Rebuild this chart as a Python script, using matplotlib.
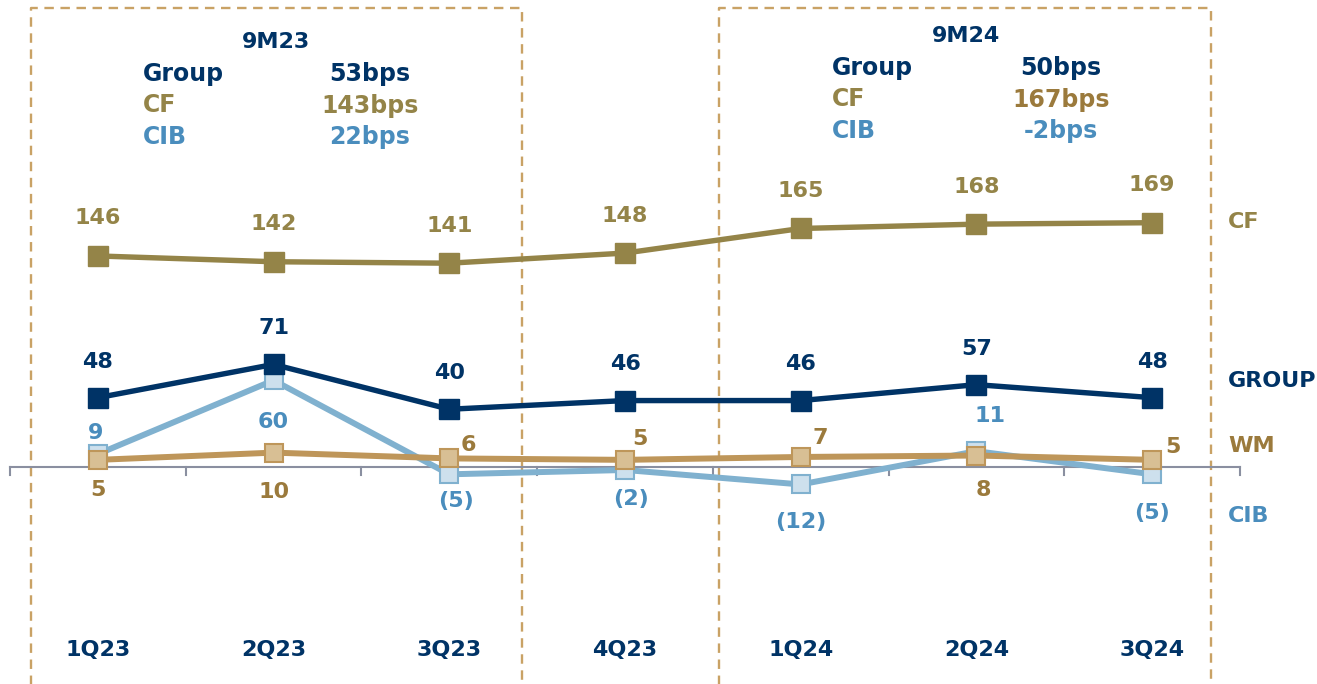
import matplotlib
matplotlib.use("Agg")
import matplotlib.pyplot as plt

# данные
quarters = ["1Q23", "2Q23", "3Q23", "4Q23", "1Q24", "2Q24", "3Q24"]
cf = [146, 142, 141, 148, 165, 168, 169]
group = [48, 71, 40, 46, 46, 57, 48]
cib = [9, 60, -5, -2, -12, 11, -5]
wm = [5, 10, 6, 5, 7, 8, 5]

summary_23 = [("Group", "53bps"), ("CF", "143bps"), ("CIB", "22bps")]
summary_24 = [("Group", "50bps"), ("CF", "167bps"), ("CIB", "-2bps")]

NAVY = "#003366"
OLIVE = "#948448"
CIB_LINE = "#80b1cf"
CIB_FACE = "#cde0ed"
CIB_TEXT = "#4a8dbd"
WM_LINE = "#be965a"
WM_FACE = "#d8bf94"
WM_TEXT = "#9b7a3c"
BOX = "#c9a265"
AXIS = "#8a8fa0"

W, H = 1317, 684
fig = plt.figure(figsize=(W / 100, H / 100), dpi=100)
ax = fig.add_axes([0, 0, 1, 1])
ax.set_xlim(-0.557, 6.938)
ax.set_ylim(-150, 323)
ax.axis("off")

FS = 16
def lab(color):
    return dict(color=color, fontsize=FS, fontweight="bold", ha="center", va="center")

x = range(len(quarters))

# ось
ax.plot([-0.5, 6.5], [0, 0], color=AXIS, lw=1.5, zorder=1)
for k in range(8):
    ax.plot([k - 0.5, k - 0.5], [0, -5.5], color=AXIS, lw=1.5, zorder=1)

# пунктирные рамки
for x0, x1 in [(-0.381, 2.414), (3.535, 6.335)]:
    ax.plot([x0, x0, x1, x1], [-170, 317.5, 317.5, -170], color=BOX, lw=1.7,
            ls=(0, (4, 2.8)), zorder=0)

# линии
ax.plot(x, cib, color=CIB_LINE, lw=4.3, marker="s", ms=13, mfc=CIB_FACE,
        mec=CIB_LINE, mew=1.5, zorder=2)
ax.plot(x, wm, color=WM_LINE, lw=4.3, marker="s", ms=13, mfc=WM_FACE,
        mec=WM_LINE, mew=1.5, zorder=3)
ax.plot(x, group, color=NAVY, lw=3.9, marker="s", ms=14, zorder=4)
ax.plot(x, cf, color=OLIVE, lw=3.9, marker="s", ms=14, zorder=4)

# подписи значений
def fmt(v):
    return f"({-v})" if v < 0 else str(v)

cib_off = [(-2, 15), (0, -30), (5, -19), (4, -21), (0, -27), (10, 25), (0, -28)]
wm_off = [(0, -22), (0, -28), (14, 10), (11, 15), (14, 14), (5, -25), (15, 9)]
for i in x:
    ax.annotate(fmt(cf[i]), (i, cf[i]), xytext=(0, 27), textcoords="offset points",
                **lab(OLIVE))
    ax.annotate(fmt(group[i]), (i, group[i]), xytext=(0, 26), textcoords="offset points",
                **lab(NAVY))
    ax.annotate(fmt(cib[i]), (i, cib[i]), xytext=cib_off[i], textcoords="offset points",
                **lab(CIB_TEXT))
    ax.annotate(fmt(wm[i]), (i, wm[i]), xytext=wm_off[i], textcoords="offset points",
                **lab(WM_TEXT))
    ax.text(i, (467 - 650) / 1.445, quarters[i], **lab(NAVY))

# подписи справа
for name, py, c in [("CF", 222, OLIVE), ("GROUP", 381, NAVY), ("WM", 446, WM_TEXT),
                    ("CIB", 516, CIB_TEXT)]:
    fig.text(1228 / W, 1 - py / H, name, color=c, fontsize=FS, fontweight="bold",
             ha="left", va="center")

# итоги за 9 месяцев
colors = [NAVY, OLIVE, CIB_TEXT]
for title, rows, cx, lx, vx, ty, ry in [("9M23", summary_23, 276, 143, 370, 42, 74),
                                         ("9M24", summary_24, 966, 832, 1061, 36, 68)]:
    fig.text(cx / W, 1 - ty / H, title, color=NAVY, fontsize=FS, fontweight="bold",
             ha="center", va="center")
    value_colors = [NAVY, OLIVE if title == "9M23" else WM_TEXT, CIB_TEXT]
    for j, (name, val) in enumerate(rows):
        py = ry + j * 31.5
        fig.text(lx / W, 1 - py / H, name, color=colors[j], fontsize=FS + 1,
                 fontweight="bold", ha="left", va="center")
        fig.text(vx / W, 1 - py / H, val, color=value_colors[j], fontsize=FS + 1,
                 fontweight="bold", ha="center", va="center")

fig.savefig("out.png", dpi=100)
